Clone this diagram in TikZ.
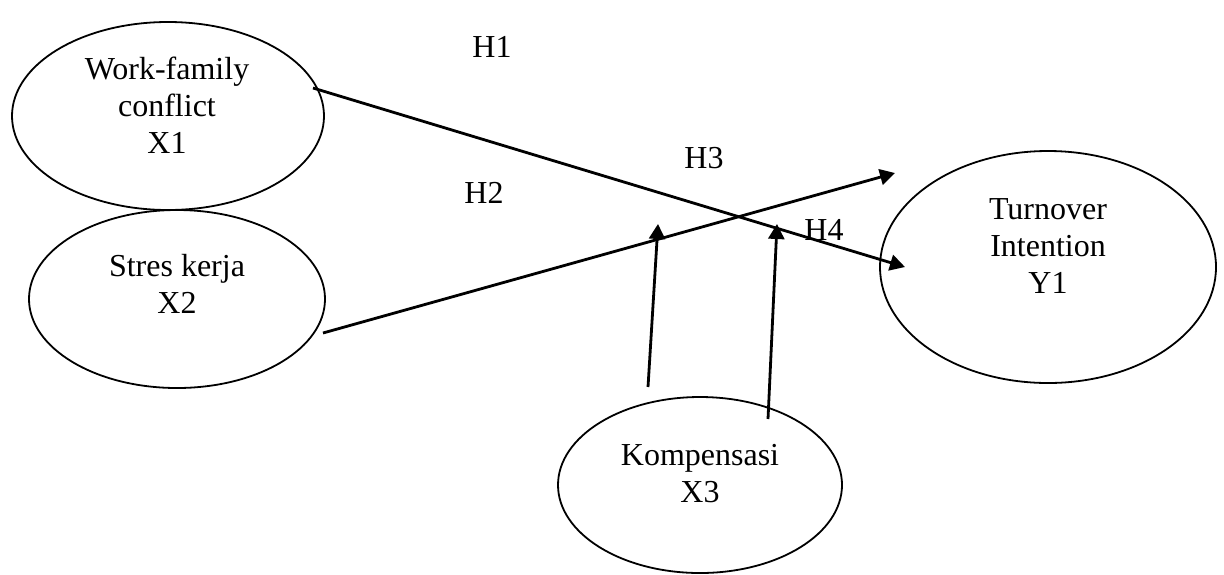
\documentclass[tikz,border=0pt]{standalone}
\usepackage{fontspec}
\setmainfont{Liberation Serif}
\usetikzlibrary{shapes.geometric,arrows.meta}
\begin{document}
\begin{tikzpicture}[x=0.5pt,y=-0.5pt,
  latent/.style={draw, ellipse, line width=0.9pt, inner sep=0pt},
  lbl/.style={inner sep=0pt, anchor=base, font=\fontsize{16}{18.5}\selectfont},
  hyp/.style={line width=1.4pt, -{Triangle[length=7.5pt,width=8pt]}},
]
\useasboundingbox (0,0) rectangle (1224,574);
% ellipses
\node[latent, minimum width=156pt, minimum height=94pt] (x1) at (168,116) {};
\node[latent, minimum width=148pt, minimum height=89pt] (x2) at (177,299) {};
\node[latent, minimum width=168pt, minimum height=116pt] (y1) at (1048,267) {};
\node[latent, minimum width=142pt, minimum height=88pt] (x3) at (700,485) {};
% texts
\node[lbl] (x1t) at (167,79) {\begin{tabular}[t]{@{}c@{}}Work-family\\conflict\\X1\end{tabular}};
\node[lbl] (x2t) at (177,276) {\begin{tabular}[t]{@{}c@{}}Stres kerja\\X2\end{tabular}};
\node[lbl] (y1t) at (1048,219) {\begin{tabular}[t]{@{}c@{}}Turnover\\Intention\\Y1\end{tabular}};
\node[lbl] (x3t) at (700,465) {\begin{tabular}[t]{@{}c@{}}Kompensasi\\X3\end{tabular}};
% hypothesis labels
\node[lbl] (h1) at (492,57) {H1};
\node[lbl] (h2) at (484,203) {H2};
\node[lbl] (h3) at (704,168) {H3};
\node[lbl] (h4) at (824,240) {H4};
% connector end points
\coordinate (a1s) at (313,88);
\coordinate (a1e) at (905,267);
\coordinate (a2s) at (323,333);
\coordinate (a2e) at (895,173);
\coordinate (a3s) at (648,387);
\coordinate (a3e) at (658,224);
\coordinate (a4s) at (768,419);
\coordinate (a4e) at (777,224);
% connectors
\draw[hyp] (a1s) -- (a1e);
\draw[hyp] (a2s) -- (a2e);
\draw[hyp] (a3s) -- (a3e);
\draw[hyp] (a4s) -- (a4e);
\end{tikzpicture}
\end{document}
